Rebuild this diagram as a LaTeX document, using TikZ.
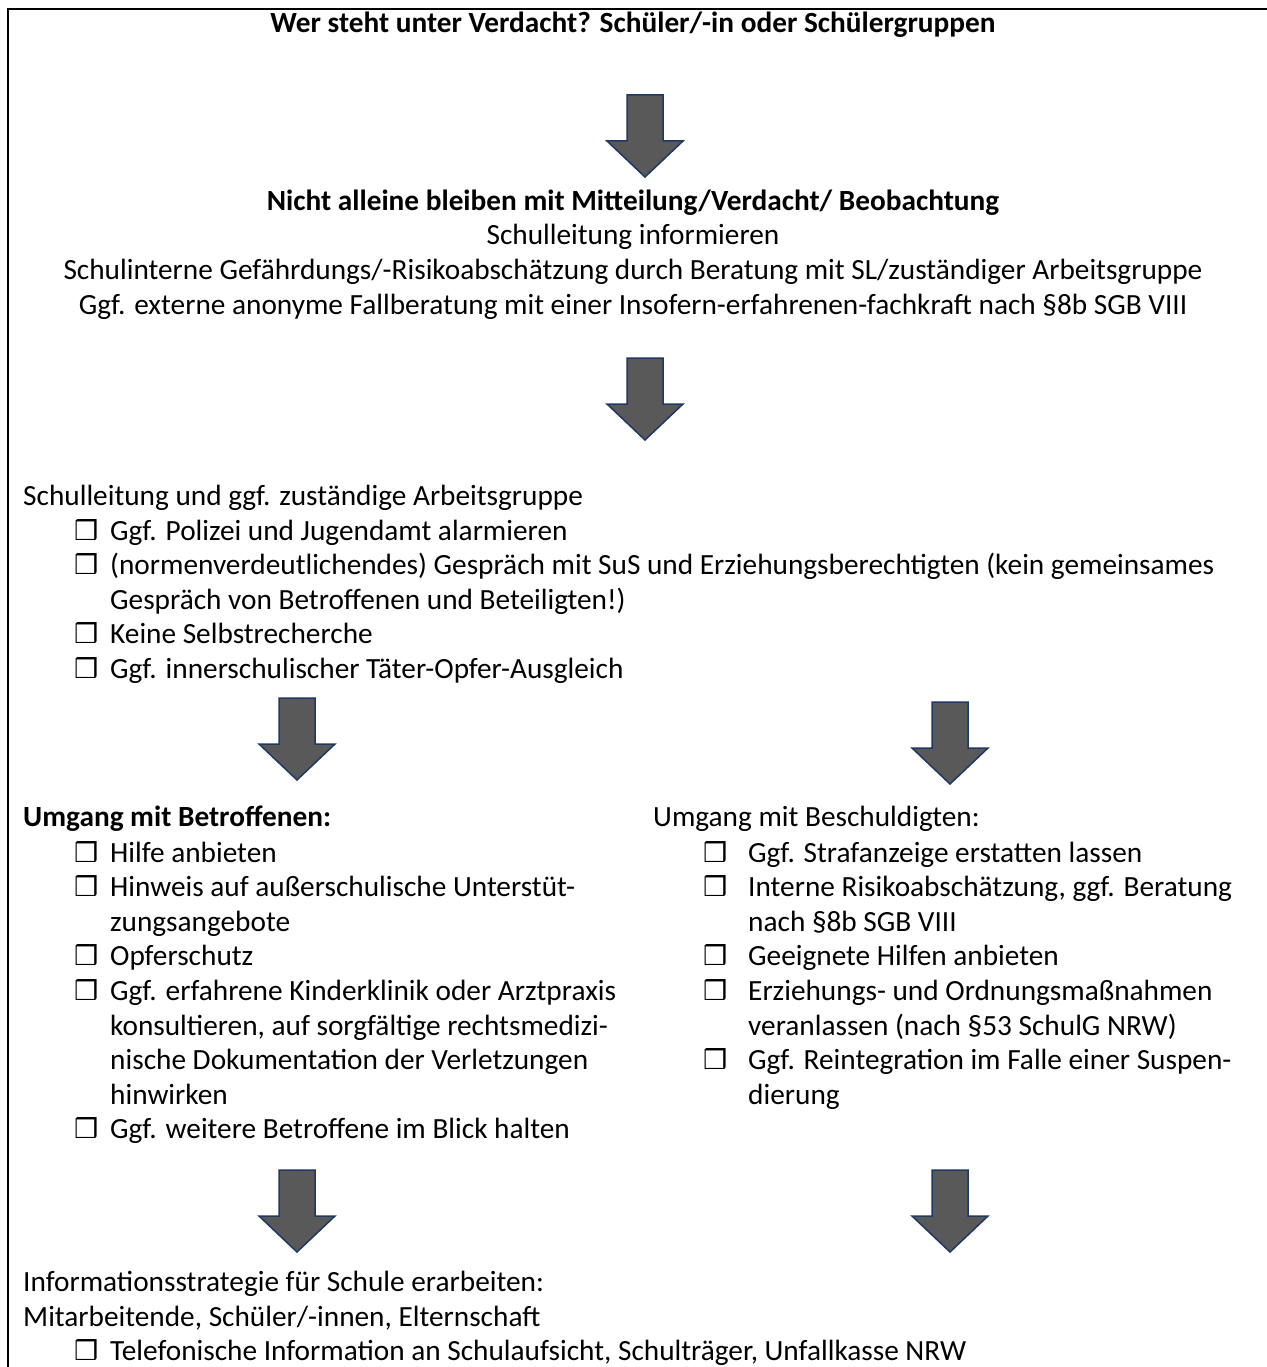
\documentclass[tikz,border=0pt]{standalone}
\usepackage{fontspec}
\setmainfont{Carlito}
\newfontfamily\symfont{DejaVu Sans}
\usepackage{tikz}
\definecolor{arrowgray}{HTML}{595959}
\definecolor{arrowblue}{HTML}{1F3864}
\newcommand{\chk}{{\symfont\bfseries\fontsize{27}{27}\selectfont ❒}}

\begin{document}
\begin{tikzpicture}[x=1pt, y=-1pt]
    \tikzstyle{plain} = [inner sep=0pt, font=\fontsize{29.3}{34.6}\selectfont, align=left]
    \tikzstyle{heading} = [plain, font=\fontsize{29.3}{34.6}\selectfont\bfseries, align=center]
    \tikzstyle{blockarrow} = [fill=arrowgray, draw=arrowblue, line width=1.5pt, line join=miter]
    \useasboundingbox (0,0) rectangle (1266,1367);
    \draw[line width=2.6pt] (8,1400) |- (1300,9);

    % step 1 (anchor base = last line)
    \node[heading, anchor=base] (verdacht) at (633,33) {Wer steht unter Verdacht? Schüler/-in oder Schülergruppen};
    \node[plain, align=center, anchor=base] (mitteilung) at (633,314) {\textbf{Nicht alleine bleiben mit Mitteilung/Verdacht/ Beobachtung}\\
        Schulleitung informieren\\
        Schulinterne Gefährdungs/-Risikoabschätzung durch Beratung mit SL/zuständiger Arbeitsgruppe\\
        Ggf. externe anonyme Fallberatung mit einer Insofern-erfahrenen-fachkraft nach §8b SGB VIII};

    % step 2
    \node[plain, anchor=base west] (leitung) at (23,505) {Schulleitung und ggf. zuständige Arbeitsgruppe};
    \node[plain, anchor=base west] (massnahmen) at (74,540) {\begin{tabular}[t]{@{}p{36pt}@{}l@{}}
        \chk & Ggf. Polizei und Jugendamt alarmieren\\
        \chk & (normenverdeutlichendes) Gespräch mit SuS und Erziehungsberechtigten (kein gemeinsames\\
             & Gespräch von Betroffenen und Beteiligten!)\\
        \chk & Keine Selbstrecherche\\
        \chk & Ggf. innerschulischer Täter-Opfer-Ausgleich
    \end{tabular}};

    % step 3: two branches
    \node[plain, anchor=base west] (betroffene) at (23,826) {\textbf{Umgang mit Betroffenen:}};
    \node[plain, anchor=base west] (betroffeneliste) at (74,862) {\begin{tabular}[t]{@{}p{36pt}@{}l@{}}
        \chk & Hilfe anbieten\\
        \chk & Hinweis auf außerschulische Unterstüt-\\
             & zungsangebote\\
        \chk & Opferschutz\\
        \chk & Ggf. erfahrene Kinderklinik oder Arztpraxis\\
             & konsultieren, auf sorgfältige rechtsmedizi-\\
             & nische Dokumentation der Verletzungen\\
             & hinwirken\\
        \chk & Ggf. weitere Betroffene im Blick halten
    \end{tabular}};
    \node[plain, anchor=base west] (beschuldigte) at (653,826) {Umgang mit Beschuldigten:};
    \node[plain, anchor=base west] (beschuldigteliste) at (703,862) {\begin{tabular}[t]{@{}p{45pt}@{}l@{}}
        \chk & Ggf. Strafanzeige erstatten lassen\\
        \chk & Interne Risikoabschätzung, ggf. Beratung\\
             & nach §8b SGB VIII\\
        \chk & Geeignete Hilfen anbieten\\
        \chk & Erziehungs- und Ordnungsmaßnahmen\\
             & veranlassen (nach §53 SchulG NRW)\\
        \chk & Ggf. Reintegration im Falle einer Suspen-\\
             & dierung
    \end{tabular}};

    % step 4
    \node[plain, anchor=base west] (information) at (23,1326) {Informationsstrategie für Schule erarbeiten:\\
        Mitarbeitende, Schüler/-innen, Elternschaft};
    \node[plain, anchor=base west] (telefon) at (74,1360) {\begin{tabular}[t]{@{}p{36pt}@{}l@{}}
        \chk & Telefonische Information an Schulaufsicht, Schulträger, Unfallkasse NRW
    \end{tabular}};

    % block arrows (top centre of each)
    \foreach \ax/\ay in {645/95, 645/358, 297/698, 950/702, 297/1170, 950/1170}
        \draw[blockarrow, shift={(\ax,\ay)}] (-18,0) -- (18,0) -- (18,46) -- (38,46) -- (0,82) -- (-38,46) -- (-18,46) -- cycle;
\end{tikzpicture}
\end{document}
